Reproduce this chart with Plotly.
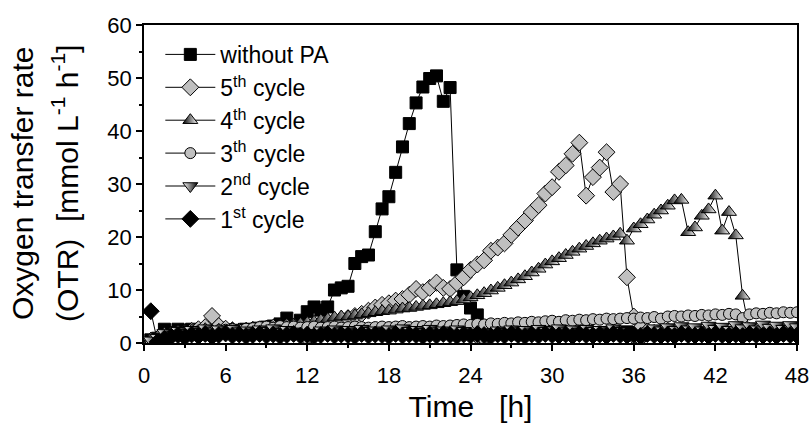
import plotly.graph_objects as go

# Time axis [h]
time_h = [0.5, 1.0, 1.5, 2.0, 2.5, 3.0, 3.5, 4.0, 4.5, 5.0, 5.5, 6.0, 6.5, 7.0, 7.5, 8.0,
          8.5, 9.0, 9.5, 10.0, 10.5, 11.0, 11.5, 12.0, 12.5, 13.0, 13.5, 14.0, 14.5, 15.0, 15.5, 16.0,
          16.5, 17.0, 17.5, 18.0, 18.5, 19.0, 19.5, 20.0, 20.5, 21.0, 21.5, 22.0, 22.5, 23.0, 23.5, 24.0,
          24.5, 25.0, 25.5, 26.0, 26.5, 27.0, 27.5, 28.0, 28.5, 29.0, 29.5, 30.0, 30.5, 31.0, 31.5, 32.0,
          32.5, 33.0, 33.5, 34.0, 34.5, 35.0, 35.5, 36.0, 36.5, 37.0, 37.5, 38.0, 38.5, 39.0, 39.5, 40.0,
          40.5, 41.0, 41.5, 42.0, 42.5, 43.0, 43.5, 44.0, 44.5, 45.0, 45.5, 46.0, 46.5, 47.0, 47.5, 48.0]

without_pa = [0.6, 0.9, 2.6, 1.9, 2.6, 2.4, 2.6, 2.2, 2.5, 2.6, 2.8, 2.5, 2.2, 2.4, 2.6, 2.5,
              2.8, 3.0, 3.2, 3.6, 4.7, 3.5, 4.3, 5.9, 6.8, 6.2, 6.8, 10.0, 10.4, 10.7, 15.0, 16.3,
              16.6, 21.0, 25.3, 27.6, 32.2, 37.0, 41.4, 45.3, 48.3, 49.9, 50.4, 45.6, 48.2, 13.8, 8.8, 6.6,
              5.3, 2.8, 2.0, 1.8, 2.1, 1.9, 1.7, 2.0, 1.9, 1.8, 2.1, 1.9, 2.0, 1.7, 1.9, 2.1,
              1.8, 1.9, 2.0, 1.7, 1.9, 1.8, 2.1, 1.8, 2.0, 1.9, 1.7, 1.9, 2.1, 1.8, 1.9, 2.0,
              1.9, 1.8, 1.9, 2.0, 1.8, 1.9, 2.1, 1.9, 1.7, 1.9, 2.0, 1.9, 1.8, 1.9, 1.9, 2.0]

cycle5 = [0.4, 0.8, 1.2, 1.5, 1.7, 1.9, 2.3, 2.6, 3.0, 5.1, 3.2, 2.7, 2.4, 2.2, 2.3, 2.5,
          2.6, 2.7, 2.9, 2.8, 3.0, 3.1, 3.2, 3.1, 3.4, 3.6, 3.9, 4.1, 4.4, 4.7, 5.1, 5.5,
          6.1, 6.7, 7.2, 7.5, 8.0, 8.3, 9.1, 10.2, 9.6, 10.4, 11.4, 10.4, 10.2, 11.3, 12.4, 13.8,
          14.8, 15.6, 17.4, 18.0, 18.8, 20.4, 21.8, 23.1, 24.7, 26.0, 28.2, 29.4, 32.3, 33.5, 35.7, 37.8,
          27.8, 31.3, 33.1, 36.0, 28.5, 30.0, 12.4, 5.0, 2.8, 2.2, 1.9, 2.1, 2.3, 1.8, 2.0, 2.2,
          1.9, 2.1, 2.4, 2.0, 1.8, 2.2, 2.1, 1.9, 2.3, 2.0, 2.2, 1.9, 2.1, 2.3, 2.0, 2.2]

cycle4 = [0.8, 1.2, 1.8, 2.0, 1.6, 2.2, 2.4, 2.0, 2.6, 2.3, 2.5, 2.2, 2.7, 2.4, 2.6, 2.8,
          2.5, 3.0, 2.8, 3.2, 3.0, 3.4, 3.6, 3.8, 4.0, 4.3, 4.5, 4.8, 5.0, 5.0, 5.2, 5.4,
          5.6, 5.8, 6.0, 6.1, 6.3, 6.5, 6.6, 6.8, 7.0, 7.1, 7.3, 7.5, 7.7, 7.9, 8.2, 8.6,
          9.0, 9.4, 9.9, 10.4, 10.9, 11.4, 12.0, 12.6, 13.3, 14.0, 14.8, 15.4, 16.0, 16.6, 17.2, 17.8,
          18.3, 18.8, 19.3, 19.7, 20.1, 20.6, 19.3, 21.6, 22.4, 23.3, 24.2, 25.0, 25.9, 26.9, 27.0, 20.9,
          21.8, 24.0, 25.2, 27.8, 21.2, 24.7, 20.3, 8.9, 2.5, 2.0, 2.3, 1.9, 2.2, 2.4, 2.0, 2.2]

cycle3 = [0.3, 0.8, 1.3, 1.6, 1.9, 2.0, 2.1, 2.2, 2.3, 2.2, 2.4, 2.5, 2.6, 2.5, 2.7, 2.8,
          3.0, 3.1, 2.9, 3.2, 3.0, 3.1, 2.9, 3.0, 3.1, 2.9, 3.0, 3.1, 2.9, 3.0, 3.1, 3.0,
          2.9, 3.0, 3.1, 3.0, 3.1, 3.2, 3.0, 3.1, 3.2, 3.1, 3.3, 3.2, 3.3, 3.4, 3.5, 3.4,
          3.6, 3.5, 3.7, 3.6, 3.8, 3.7, 3.9, 3.8, 4.0, 3.9, 4.1, 4.2, 4.0, 4.3, 4.2, 4.4,
          4.3, 4.5, 4.4, 4.6, 4.5, 4.6, 4.7, 4.6, 4.8, 4.7, 4.9, 4.6, 5.0, 5.1, 5.0, 5.2,
          5.1, 5.3, 5.2, 5.4, 5.3, 5.5, 5.4, 4.7, 5.4, 5.6, 5.5, 5.7, 5.6, 5.8, 5.7, 5.8]

cycle2 = [0.5, 1.0, 1.9, 1.5, 2.3, 1.9, 2.5, 2.1, 2.8, 2.2, 2.6, 2.0, 2.7, 2.2, 2.4, 1.9,
          2.6, 2.3, 2.8, 2.1, 2.5, 2.2, 1.4, 0.3, 1.9, 2.4, 2.0, 2.6, 2.2, 2.5, 2.0, 2.7,
          2.3, 2.4, 2.1, 2.6, 2.2, 2.8, 2.3, 2.5, 2.1, 2.7, 2.2, 2.4, 2.0, 2.6, 2.3, 1.6,
          0.8, 0.3, 2.0, 2.4, 2.1, 2.6, 2.2, 2.5, 2.0, 2.7, 2.3, 2.4, 2.8, 2.2, 2.6, 2.1,
          2.7, 2.3, 2.5, 2.0, 2.8, 2.3, 1.6, 0.8, 0.3, 2.2, 2.8, 2.4, 3.0, 2.5, 3.2, 2.6,
          3.0, 2.4, 3.3, 2.7, 3.1, 2.5, 3.4, 2.8, 3.2, 2.6, 3.5, 2.9, 3.3, 2.7, 3.4, 3.0]

cycle1 = [6.0, 0.2, 0.8, 1.2, 1.5, 1.1, 1.6, 1.3, 1.7, 1.2, 1.5, 1.8, 1.4, 1.6, 1.3, 1.5,
          1.7, 1.4, 1.6, 1.3, 1.5, 1.7, 1.4, 1.6, 1.3, 1.5, 1.7, 1.4, 1.6, 1.5, 1.3, 1.7,
          1.4, 1.6, 1.5, 1.3, 1.7, 1.4, 1.6, 1.5, 1.3, 1.6, 1.4, 1.7, 1.5, 1.3, 1.6, 1.4,
          1.7, 1.5, 1.3, 1.6, 1.4, 1.7, 1.5, 1.3, 1.6, 1.4, 1.7, 1.5, 1.4, 1.6, 1.3, 1.7,
          1.5, 1.4, 1.6, 1.3, 1.7, 1.5, 1.4, 1.6, 1.3, 1.7, 1.5, 1.4, 1.6, 1.3, 1.7, 1.5,
          1.4, 1.6, 1.3, 1.7, 1.5, 1.4, 1.6, 1.3, 1.7, 1.5, 1.4, 1.6, 1.3, 1.7, 1.5, 1.4]

series_names = ["without PA", "5<sup>th</sup> cycle", "4<sup>th</sup> cycle",
                "3<sup>th</sup> cycle", "2<sup>nd</sup> cycle", "1<sup>st</sup> cycle"]

y_title_lines = ["Oxygen transfer rate",
                 "(OTR)\u00a0\u00a0[mmol L<sup>-1</sup> h<sup>-1</sup>]"]

FONT = "Liberation Sans, Arial, sans-serif"
GRAY = "#c0c0c0"

styles = [
    dict(symbol="square", size=12, color="black", line=dict(color="black", width=1)),
    dict(symbol="diamond", size=13, color=GRAY, line=dict(color="black", width=1)),
    dict(symbol="triangle-up", size=13, color="black", line=dict(color="black", width=1),
         gradient=dict(type="horizontal", color="white")),
    dict(symbol="circle", size=11, color=GRAY, line=dict(color="black", width=1)),
    dict(symbol="triangle-down", size=13, color="white", line=dict(color="black", width=1),
         gradient=dict(type="horizontal", color="black")),
    dict(symbol="diamond", size=13, color="black", line=dict(color="black", width=1)),
]

data = [without_pa, cycle5, cycle4, cycle3, cycle2, cycle1]

fig = go.Figure()
for name, vals, mk in zip(series_names, data, styles):
    fig.add_trace(go.Scatter(x=time_h, y=vals, name=name, mode="lines+markers",
                             line=dict(color="black", width=1), marker=mk))

axis_common = dict(showgrid=False, zeroline=False, showline=True, linecolor="black",
                   linewidth=1.5, mirror=True, ticks="outside", ticklen=6, tickwidth=1.5,
                   tickcolor="black", automargin=False,
                   tickfont=dict(family=FONT, size=22, color="black"))

fig.update_layout(
    width=811, height=423,
    margin=dict(l=144, r=14, t=25, b=80, autoexpand=False),
    plot_bgcolor="white", paper_bgcolor="white",
    font=dict(family=FONT, color="black"),
    showlegend=True,
    legend=dict(x=0.025, y=0.975, xanchor="left", yanchor="top", itemwidth=50,
                bgcolor="rgba(0,0,0,0)", font=dict(family=FONT, size=23, color="black")),
    xaxis=dict(range=[0, 48], tick0=0, dtick=6, ticklabelstandoff=6,
               minor=dict(dtick=3, ticks="outside", ticklen=3, tickcolor="black", tickwidth=1.5),
               title=dict(text="\u00a0Time\u00a0\u00a0\u00a0[h]", font=dict(family=FONT, size=30),
                          standoff=14),
               **axis_common),
    yaxis=dict(range=[0, 60], tick0=0, dtick=10,
               minor=dict(dtick=5, ticks="outside", ticklen=3, tickcolor="black", tickwidth=1.5),
               **axis_common),
)

for txt, shift in zip(y_title_lines, [-122, -79]):
    fig.add_annotation(text=txt, xref="paper", yref="paper", x=0, y=0.5,
                       xanchor="center", yanchor="middle", xshift=shift, textangle=-90,
                       showarrow=False, font=dict(family=FONT, size=30, color="black"))

fig.write_html("out.html")
